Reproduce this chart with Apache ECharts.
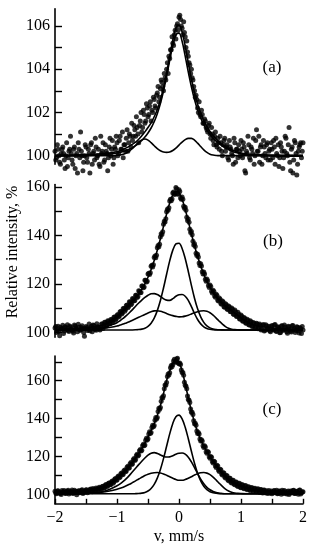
<!DOCTYPE html>
<html><head><meta charset="utf-8">
<script src="https://cdn.jsdelivr.net/npm/echarts@6/dist/echarts.min.js"></script>
<style>html,body{margin:0;padding:0;background:#fff}#c{width:315px;height:550px}</style>
</head><body><div id="c"></div>
<script>
// velocity grids of the measured channels (mm/s): two interleaved sets, step 0.025
const vData = [], vData2 = [];
for (let i = 0; i <= 160; i++) vData.push(+(-2 + i * 0.025).toFixed(4));
for (let i = 0; i < 160; i++) vData2.push(+(-1.9875 + i * 0.025).toFixed(4));

// velocity grid used for the fitted curves
const vFit = [-2,-1.75,-1.5,-1.25,-1.1,-1,-0.95,-0.9,-0.85,-0.8,-0.75,-0.7,-0.65,-0.6,-0.55,-0.5,-0.45,-0.4,-0.35,-0.3,-0.25,-0.2,-0.15,-0.1,-0.05,0,0.05,0.1,0.15,0.2,0.25,0.3,0.35,0.4,0.45,0.5,0.55,0.6,0.65,0.7,0.75,0.8,0.85,0.9,0.95,1,1.1,1.25,1.5,1.75,2];

// ---------- panel (a) ----------
const dataA = [100.2,99.9,100.3,99.7,100.1,100.4,99.8,100.0,99.5,100.2,
100.9,99.8,100.3,99.4,100.1,100.6,99.9,100.2,99.3,100.0,
100.4,99.7,100.1,100.5,99.6,100.2,100.8,99.9,100.3,99.5,
100.1,100.6,99.8,100.2,99.3,100.4,100.0,100.7,99.9,100.3,
100.6,100.1,100.9,100.3,99.9,100.5,100.8,100.2,101.0,100.4,
100.7,101.4,100.9,101.3,100.6,101.6,101.1,102.1,101.5,102.4,
101.8,102.3,101.6,102.0,102.6,102.2,102.9,102.5,103.1,103.4,
103.0,103.6,104.0,103.8,104.5,104.9,105.2,105.6,105.4,106.1,
106.4,106.3,105.9,106.2,105.5,105.3,104.6,104.2,104.0,103.5,
103.0,102.8,102.2,102.5,101.8,101.9,101.5,101.6,101.2,101.4,
101.0,101.3,100.7,100.9,100.5,100.8,100.3,100.6,100.0,100.7,
100.2,100.5,99.8,100.4,100.1,99.6,100.6,100.3,99.9,100.2,
100.7,99.9,100.4,99.2,100.1,100.5,99.8,100.3,100.8,100.0,
101.2,100.2,99.7,100.5,100.0,100.4,99.9,100.6,100.2,99.8,
100.3,100.7,99.6,100.1,100.5,99.9,100.4,99.4,100.2,100.8,
100.0,101.3,99.3,100.4,99.8,100.6,99.1,100.2,100.5,99.9,
100.6];
const dataA2 = [99.8,100.5,100.0,99.6,100.3,100.1,99.4,100.6,99.9,100.3,
100.1,99.6,100.4,100.0,99.2,100.3,101.1,100.0,99.7,100.5,
99.9,100.3,99.2,100.6,100.1,99.8,100.4,100.0,99.6,100.9,
100.2,99.7,100.5,100.1,99.9,100.8,100.3,99.6,100.4,100.9,
100.0,100.7,100.3,101.1,100.5,100.2,101.2,100.6,100.9,101.5,
100.9,101.2,101.8,101.0,101.4,102.0,101.3,101.9,101.6,102.2,
101.9,102.5,102.1,102.7,102.3,102.8,103.2,102.7,103.5,103.2,
103.8,103.5,104.3,104.6,104.9,105.5,105.1,105.8,106.0,105.8,
106.5,106.0,105.6,105.7,105.0,104.8,104.3,103.8,103.6,103.2,
102.7,102.6,102.0,101.9,102.1,101.5,101.7,101.3,101.1,101.5,
100.8,101.0,100.5,101.1,100.4,100.6,100.9,100.2,100.5,100.8,
100.4,99.9,100.7,100.3,100.0,100.8,99.7,100.3,100.5,100.0,
100.3,100.6,99.3,100.2,100.9,99.9,100.4,100.1,99.6,100.7,
100.2,100.9,100.4,99.6,100.7,100.1,100.5,99.8,100.3,100.6,
99.9,100.4,100.8,100.0,99.5,100.6,100.2,99.9,100.9,100.1,
100.5,99.7,100.3,99.2,100.7,100.1,99.6,100.4,100.6,100.2];
const fitA_total = [100.02,100.03,100.05,100.09,100.13,100.18,100.23,100.29,100.36,100.44,100.53,100.63,100.76,100.92,101.10,101.30,101.52,101.80,102.14,102.58,103.14,103.83,104.60,105.35,105.90,106.04,105.72,105.07,104.29,103.55,102.91,102.38,101.96,101.62,101.34,101.12,100.93,100.77,100.63,100.52,100.42,100.34,100.27,100.21,100.16,100.12,100.08,100.05,100.03,100.02,100.02];
const fitA_single = [99.98,99.99,100.01,100.04,100.08,100.12,100.15,100.19,100.24,100.30,100.37,100.46,100.57,100.70,100.86,101.05,101.28,101.57,101.94,102.41,102.99,103.67,104.41,105.09,105.59,105.67,105.29,104.61,103.87,103.19,102.60,102.12,101.74,101.43,101.18,100.98,100.81,100.67,100.55,100.44,100.35,100.28,100.21,100.16,100.12,100.08,100.04,100.01,99.99,99.98,99.98];
const fitA_doublet = [100,100,100,100,100,100.01,100.03,100.06,100.12,100.21,100.34,100.48,100.62,100.73,100.77,100.72,100.60,100.46,100.33,100.23,100.17,100.15,100.17,100.24,100.35,100.49,100.63,100.74,100.80,100.80,100.72,100.58,100.42,100.27,100.15,100.07,100.03,100.01,100,100,100,100,100,100,100,100,100,100,100,100,100];

// ---------- panel (b) ----------
const dataB = [101.8,99.9,102.5,98.6,101.3,102.9,100.6,101.9,103.1,100.4,
102.2,101.0,99.7,102.6,101.4,103.3,100.9,102.0,101.5,98.4,
102.4,100.8,103.5,101.7,100.3,102.8,101.2,103.6,102.1,101.0,
103.4,101.6,104.2,102.5,104.8,103.7,105.3,104.6,106.2,105.1,
107.0,106.3,108.5,107.6,109.8,108.7,111.1,110.2,112.6,111.4,
114.0,113.0,115.3,114.4,117.2,116.3,119.1,118.4,121.5,120.8,
124.1,123.9,127.3,127.0,130.9,130.8,134.9,135.3,139.4,140.4,
144.6,145.6,149.8,150.4,154.2,154.3,157.5,156.9,159.8,157.0,
158.9,155.5,155.9,152.1,151.6,147.5,146.8,142.6,141.6,137.6,
136.6,132.7,132.2,128.6,128.3,125.0,124.9,121.9,122.0,119.3,
119.6,117.0,117.4,115.0,115.7,113.3,114.2,111.9,112.9,110.6,
111.8,109.6,110.9,108.6,110.1,107.6,109.2,106.6,108.3,105.6,
107.2,104.7,106.1,103.9,105.4,103.1,104.8,102.5,104.1,101.9,
103.8,101.5,103.4,101.0,102.9,100.6,103.1,101.2,102.5,100.2,
102.8,101.0,103.2,100.4,102.1,99.8,102.6,100.9,103.0,101.3,
99.6,102.2,100.5,102.7,101.1,99.9,102.3,100.7,101.9,99.5,
101.0];
const dataB2 = [102.4,101.0,100.2,102.1,101.6,99.5,102.3,101.2,100.8,102.6,
101.4,100.5,103.0,101.8,100.2,102.1,101.0,102.7,99.9,101.6,
102.0,101.3,100.7,102.5,103.0,101.6,100.9,102.3,101.4,102.0,
103.4,102.6,104.1,103.2,104.6,103.6,105.2,104.5,106.3,105.6,
107.4,106.8,108.6,108.0,109.9,109.4,111.3,110.7,112.5,111.9,
113.8,113.2,115.3,114.8,117.0,116.5,119.1,118.7,121.5,121.1,
124.4,124.6,127.7,127.9,131.5,131.8,135.9,136.4,140.7,141.5,
145.9,146.9,150.8,151.4,155.0,155.1,157.9,157.2,159.3,157.2,
158.1,155.0,155.0,151.2,150.4,146.2,145.5,141.2,140.3,136.1,
135.4,131.7,131.1,127.6,127.4,124.1,124.1,121.1,121.3,118.5,
118.9,116.2,116.9,114.5,115.2,112.9,113.7,111.6,112.5,110.4,
111.4,109.4,110.5,108.5,109.5,107.4,108.5,106.5,107.5,105.4,
106.6,104.6,105.7,103.8,104.9,103.0,104.3,102.4,103.7,102.0,
103.4,101.8,102.9,101.3,103.2,100.9,102.6,101.6,100.7,102.4,
101.2,103.0,100.6,102.3,101.5,99.9,102.7,101.0,102.2,100.3,
102.5,101.2,100.1,102.8,101.6,100.8,102.1,99.7,101.5,102.4];
const fitB_total = [101.2,101.4,101.8,102.8,104.4,106.4,107.6,108.9,110.2,111.5,112.7,114.1,115.8,117.75,120.06,122.76,125.94,129.65,133.9,138.66,143.75,148.85,153.41,156.75,158.26,157.6,154.93,150.78,145.82,140.67,135.75,131.29,127.36,123.98,121.09,118.63,116.54,114.77,113.26,111.97,110.85,109.89,109.0,108.0,107.0,106.0,104.3,102.7,101.8,101.4,101.2];
const fitB_single = [101,101,101,101,101,101,101,101,101,101,101,101.05,101.15,101.34,101.73,102.48,103.78,105.87,108.97,113.15,118.3,123.98,129.49,133.95,136.55,136.8,134.64,130.49,125.12,119.42,114.11,109.72,106.41,104.13,102.69,101.85,101.4,101.18,101.06,101.02,101,101,101,101,101,101,101,101,101,101,101];
const fitB_d1 = [101,101,101.15,101.8,103.0,104.0,104.8,105.8,106.9,108.1,109.4,110.8,112.1,113.3,114.4,115.3,115.9,116.0,115.6,114.8,113.9,113.3,113.2,113.9,114.9,115.5,115.6,114.9,113.2,110.6,107.8,105.3,103.5,102.3,101.6,101.25,101.08,101,101,101,101,101,101,101,101,101,101,101,101,101,101];
const fitB_d2 = [101,101.05,101.2,101.6,102.1,102.6,103.0,103.4,103.9,104.4,105.0,105.6,106.2,106.8,107.4,108.0,108.5,108.85,108.9,108.7,108.3,107.8,107.3,106.9,106.6,106.4,106.45,106.7,107.1,107.6,108.1,108.5,108.8,108.9,108.7,108.1,107.1,105.9,104.6,103.4,102.4,101.7,101.3,101.12,101.05,101.0,101,101,101,101,101];

// ---------- panel (c) ----------
const dataC = [101.6,100.3,101.9,100.8,99.9,101.4,102.0,100.5,101.7,100.2,
101.5,102.3,100.7,101.2,99.8,101.8,100.9,102.1,100.4,101.6,
102.4,100.8,101.9,102.8,101.3,102.5,101.7,103.0,102.2,103.4,
102.7,104.3,103.5,105.2,104.4,106.0,105.2,107.1,106.5,108.4,
107.6,109.7,109.1,111.2,110.6,112.9,112.3,114.8,114.1,116.8,
116.2,118.9,118.4,121.2,120.8,123.7,123.3,126.5,126.1,129.6,
129.3,133.0,132.7,136.5,136.3,140.6,140.6,145.4,145.8,151.2,
152.1,157.8,159.0,163.6,164.2,168.1,168.4,171.3,170.0,171.8,
169.0,168.6,164.4,162.9,157.6,155.7,150.1,148.5,143.3,142.1,
137.3,136.5,132.1,131.9,128.1,128.2,124.7,125.0,121.7,122.2,
119.0,119.6,116.5,117.2,114.2,115.0,112.1,113.0,110.2,111.3,
108.6,109.8,107.2,108.5,106.0,107.4,105.0,106.5,104.2,105.8,
103.5,105.1,102.9,104.6,102.4,104.0,101.9,103.6,101.6,103.2,
101.3,102.9,101.0,102.6,100.7,102.3,101.2,100.4,102.0,101.0,
100.3,101.8,100.9,102.2,100.5,101.6,100.1,101.4,102.0,100.6,
101.3,99.9,101.7,100.8,102.1,100.4,101.5,100.0,102.3,100.9,
101.4];
const dataC2 = [100.7,101.8,101.1,100.4,102.0,101.3,100.6,101.5,102.1,100.9,
101.2,100.5,102.2,101.6,100.9,101.9,101.3,102.4,100.8,101.7,
102.3,101.4,102.6,102.0,103.1,102.2,103.3,102.6,103.7,102.9,
104.1,103.3,104.9,104.1,105.8,105.0,106.7,105.9,108.0,107.4,
109.3,108.7,110.9,110.3,112.5,111.9,114.3,113.8,116.2,115.7,
118.3,117.9,120.5,120.3,123.0,122.9,125.6,125.7,128.6,128.7,
131.8,132.1,135.3,135.7,139.1,139.8,143.7,144.9,149.2,150.9,
155.7,157.6,162.2,163.0,166.8,167.4,170.4,169.8,171.5,169.4,
169.4,165.7,164.3,159.2,157.1,151.9,149.7,145.1,143.4,138.9,
137.6,133.5,132.7,129.2,128.8,125.7,125.6,122.5,122.6,119.8,
120.0,117.3,117.5,114.9,115.3,112.7,113.2,110.8,111.4,109.1,
109.9,107.7,108.5,106.4,107.3,105.4,106.4,104.5,105.6,103.8,
105.0,103.4,104.4,102.9,103.9,102.5,103.4,102.1,103.0,101.8,
102.7,101.5,102.4,101.2,102.2,100.8,101.9,101.1,100.6,101.8,
100.9,102.0,101.2,100.3,101.7,100.8,102.2,100.5,101.4,100.2,
101.8,100.6,101.3,102.0,100.4,101.6,100.9,102.1,100.2,101.2];
const fitC_total = [100.9,101.1,101.7,103.3,105.8,108.3,109.7,111.3,113.0,114.9,116.9,119.1,121.5,124.1,127.0,130.2,133.6,137.3,141.6,146.9,153.2,160.1,165.1,169.1,170.9,169.8,165.2,158.4,150.9,144.1,138.1,132.9,128.9,125.5,122.5,119.8,117.3,115.0,112.9,111.0,109.4,108.0,106.8,105.8,105.0,104.3,103.2,102.2,101.4,101.1,100.9];
const fitC_single = [100.3,100.3,100.3,100.3,100.3,100.3,100.3,100.3,100.3,100.3,100.3,100.35,100.43,100.62,101.0,101.74,103.07,105.24,108.54,113.11,118.87,125.39,131.92,137.44,140.98,141.84,139.85,135.41,129.37,122.73,116.44,111.13,107.07,104.25,102.45,101.39,100.82,100.53,100.39,100.34,100.3,100.3,100.3,100.3,100.3,100.3,100.3,100.3,100.3,100.3,100.3];
const fitC_d1 = [100.3,100.3,100.5,101.3,102.9,104.5,105.5,106.8,108.3,110.0,111.9,113.8,115.7,117.5,119.2,120.7,121.7,122.0,121.6,120.8,120.1,119.7,119.8,120.4,121.2,121.7,121.8,121.2,119.6,117.1,114.1,110.9,108.0,105.6,103.7,102.4,101.5,100.9,100.6,100.4,100.3,100.3,100.3,100.3,100.3,100.3,100.3,100.3,100.3,100.3,100.3];
const fitC_d2 = [100.3,100.35,100.55,101.1,101.9,102.7,103.2,103.8,104.5,105.3,106.2,107.1,108.1,109.0,109.9,110.6,111.1,111.4,111.5,111.3,110.8,110.1,109.3,108.5,107.8,107.4,107.4,107.8,108.5,109.3,110.2,110.9,111.4,111.5,111.2,110.4,109.1,107.5,105.8,104.2,102.8,101.8,101.1,100.7,100.5,100.4,100.3,100.3,100.3,100.3,100.3];

// axis ticks / labels
const yTicksA = [100,101,102,103,104,105,106], yLabelsA = [100,102,104,106];
const yTicksB = [100,110,120,130,140,150,160], yLabelsB = [100,120,140,160];
const yTicksC = [100,110,120,130,140,150,160,170], yLabelsC = [100,120,140,160];
const xLabels = [-2,-1,0,1,2];

const FONT = "'Liberation Serif','Times New Roman',serif";
const pair = (xs, ys) => ys.slice(0, xs.length).map((y, i) => [xs[i], y]);

const chart = echarts.init(document.getElementById('c'), null, {renderer: 'canvas'});

function yAxis(idx, min, max, ticks, labels) {
  return {
    type: 'value', gridIndex: idx, min: min, max: max, position: 'left',
    axisLine: {show: true, onZero: false, lineStyle: {color: '#000', width: 1.6}},
    axisTick: {show: true, inside: true, length: 7, customValues: ticks, lineStyle: {color: '#000', width: 1.4}},
    axisLabel: {show: true, customValues: labels, margin: 5, fontSize: 16, fontFamily: FONT, color: '#000'},
    splitLine: {show: false}
  };
}
function xAxis(idx, show) {
  return {
    type: 'value', gridIndex: idx, min: -2, max: 2, interval: 0.5, show: show, position: 'bottom',
    axisLine: {show: true, onZero: false, lineStyle: {color: '#000', width: 1.6}},
    axisTick: {show: true, inside: true, length: 5, lineStyle: {color: '#000', width: 1.4}},
    axisLabel: {show: true, margin: 6, fontSize: 16, fontFamily: FONT, color: '#000',
      formatter: v => (xLabels.indexOf(v) >= 0 ? String(v).replace('-', '\u2212') : '')},
    splitLine: {show: false}
  };
}
function scatter(idx, xs, ys) {
  return {type: 'scatter', xAxisIndex: idx, yAxisIndex: idx, data: pair(xs, ys),
    symbol: 'circle', symbolSize: 5, itemStyle: {color: '#000'}, clip: false, silent: true, z: 3};
}
function line(idx, ys) {
  return {type: 'line', xAxisIndex: idx, yAxisIndex: idx, data: pair(vFit, ys),
    showSymbol: false, smooth: 0.35, lineStyle: {color: '#000', width: 1.6}, clip: false, silent: true, z: 2};
}

chart.setOption({
  animation: false,
  backgroundColor: '#fff',
  grid: [
    {left: 55, top: 8.7, width: 248, height: 155.6},
    {left: 55, top: 184.6, width: 248, height: 152.6},
    {left: 55, top: 356.1, width: 248, height: 147.7}
  ],
  xAxis: [xAxis(0, false), xAxis(1, false), xAxis(2, true)],
  yAxis: [
    yAxis(0, 99.6, 106.8, yTicksA, yLabelsA),
    yAxis(1, 98, 161, yTicksB, yLabelsB),
    yAxis(2, 95, 173, yTicksC, yLabelsC)
  ],
  graphic: [
    {type: 'text', x: 13, y: 252, rotation: Math.PI / 2,
      style: {text: 'Relative intensity, %', font: '16px ' + FONT, fill: '#000', textAlign: 'center', textVerticalAlign: 'middle'}},
    {type: 'text', x: 272, y: 68, style: {text: '(a)', font: '17px ' + FONT, fill: '#000', textAlign: 'center', textVerticalAlign: 'middle'}},
    {type: 'text', x: 273, y: 242, style: {text: '(b)', font: '17px ' + FONT, fill: '#000', textAlign: 'center', textVerticalAlign: 'middle'}},
    {type: 'text', x: 272, y: 410, style: {text: '(c)', font: '17px ' + FONT, fill: '#000', textAlign: 'center', textVerticalAlign: 'middle'}},
    {type: 'text', x: 179, y: 537, style: {text: 'v, mm/s', font: '16px ' + FONT, fill: '#000', textAlign: 'center', textVerticalAlign: 'middle'}}
  ],
  series: [
    line(0, fitA_total), line(0, fitA_single), line(0, fitA_doublet), scatter(0, vData, dataA), scatter(0, vData2, dataA2),
    line(1, fitB_total), line(1, fitB_single), line(1, fitB_d1), line(1, fitB_d2), scatter(1, vData, dataB), scatter(1, vData2, dataB2),
    line(2, fitC_total), line(2, fitC_single), line(2, fitC_d1), line(2, fitC_d2), scatter(2, vData, dataC), scatter(2, vData2, dataC2)
  ]
});
</script>
</body></html>
